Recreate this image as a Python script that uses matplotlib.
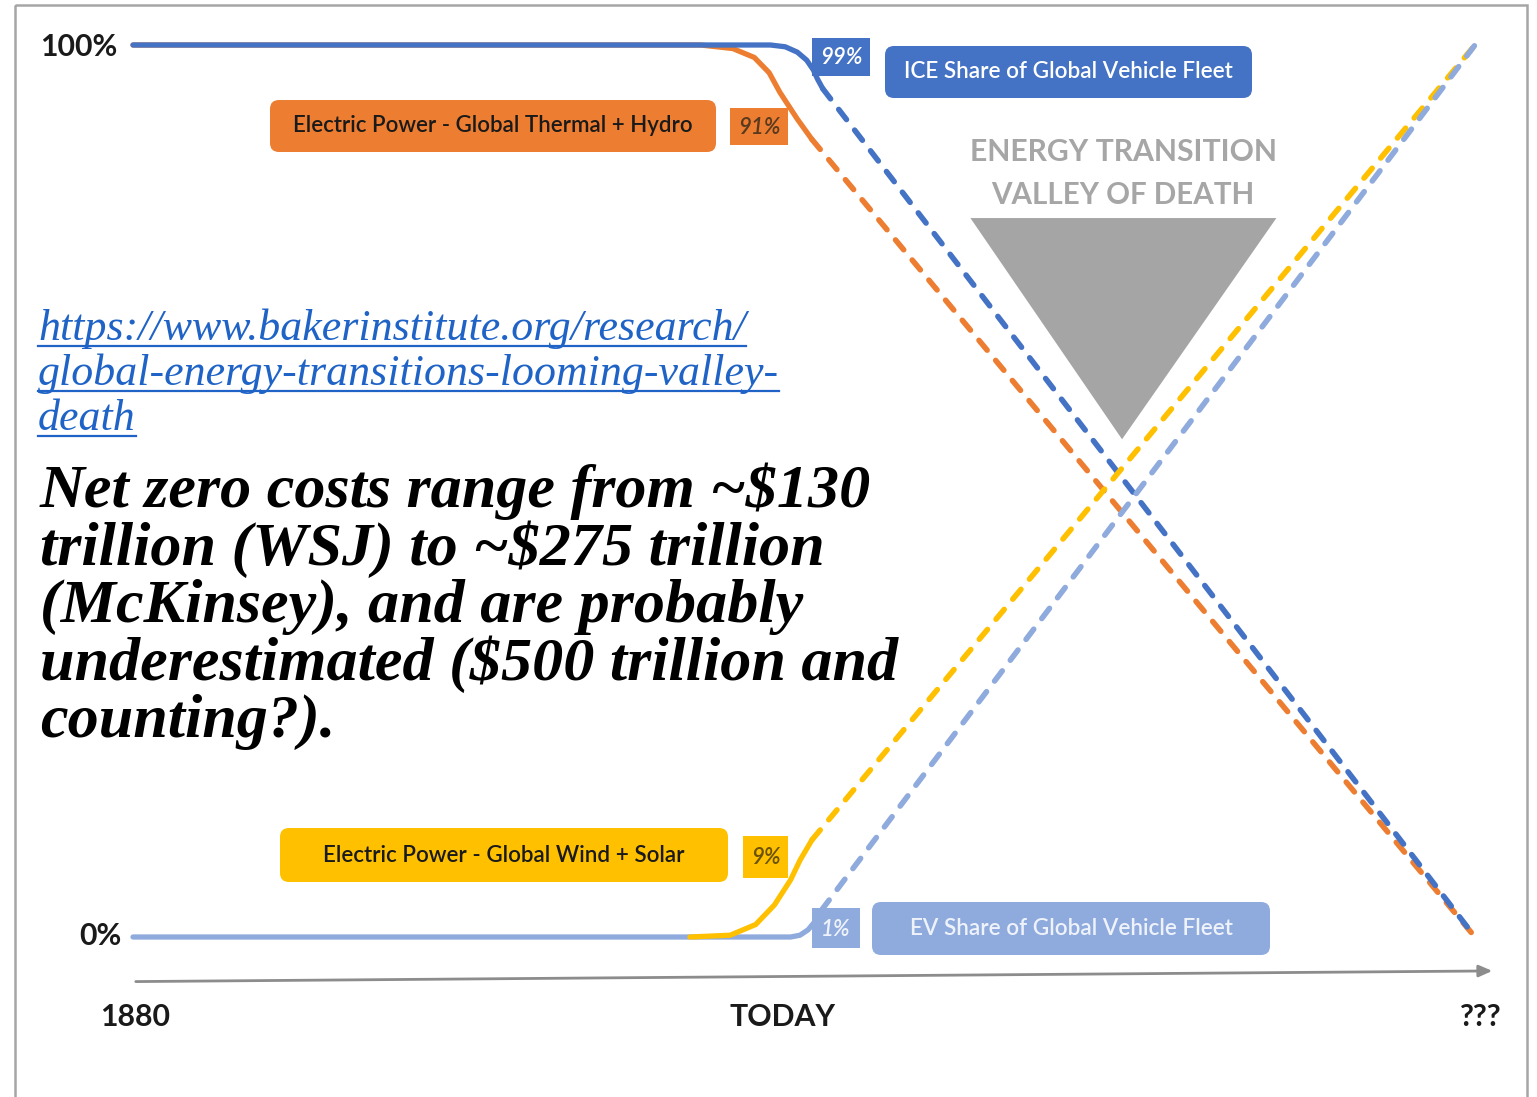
import matplotlib
matplotlib.use("Agg")
import matplotlib.pyplot as plt
from matplotlib.patches import FancyBboxPatch, Rectangle, Polygon
from matplotlib.transforms import Affine2D

W, H = 1537, 1097

# ----------------------- data (time index 0=1880 .. 100=???, share in %) -----------------------
ice_solid_x = [0, 47.5, 48.6, 49.5, 50.2, 50.7, 51.0, 51.4]
ice_solid_y = [100, 100, 99.8, 99.2, 98.3, 97.2, 96.2, 95.1]
ice_dash_x = [51.4, 100]
ice_dash_y = [95.1, 0]

thermal_solid_x = [0, 42.3, 44.7, 46.3, 47.4, 48.2, 49.5, 50.6]
thermal_solid_y = [100, 100, 99.6, 98.6, 96.9, 94.7, 91.7, 89.4]
thermal_dash_x = [50.6, 100]
thermal_dash_y = [89.4, 0]

wind_solid_x = [41.5, 44.5, 46.4, 47.8, 49.0, 49.7, 50.6]
wind_solid_y = [0, 0.2, 1.4, 3.6, 6.4, 8.6, 10.9]
wind_dash_x = [50.6, 100]
wind_dash_y = [10.9, 100]

ev_solid_x = [0, 49.0, 49.7, 50.3, 50.8, 51.3]
ev_solid_y = [0, 0, 0.2, 0.8, 1.7, 3.0]
ev_dash_x = [51.3, 100]
ev_dash_y = [3.0, 100]

series_names = ["ICE Share of Global Vehicle Fleet",
                "Electric Power - Global Thermal + Hydro",
                "Electric Power - Global Wind + Solar",
                "EV Share of Global Vehicle Fleet"]
today_values = ["99%", "91%", "9%", "1%"]
y_ticks = ["100%", "0%"]
x_ticks = ["1880", "TODAY", "???"]

valley_title = ["ENERGY TRANSITION", "VALLEY OF DEATH"]
link_lines = ["https://www.bakerinstitute.org/research/",
              "global-energy-transitions-looming-valley-",
              "death"]
note_lines = ["Net zero costs range from ~$130",
              "trillion (WSJ) to ~$275 trillion",
              "(McKinsey), and are probably",
              "underestimated ($500 trillion and",
              "counting?)."]

BLUE = "#4472C4"
ORANGE = "#ED7D31"
YELLOW = "#FFC000"
LBLUE = "#8FAADC"
GREY = "#A5A5A5"

# ----------------------- figure -----------------------
fig = plt.figure(figsize=(W / 100, H / 100), dpi=100)
ax = fig.add_axes([0, 0, 1, 1])
# 1880 sits at pixel 133, ??? end at 1475; 100% at pixel 45, 0% at 937
ax.set_xlim(-133 / 13.42, (W - 133) / 13.42)
ax.set_ylim((937 - H) / 8.92, 937 / 8.92)
ax.axis("off")

# pixel transform (image coords, y down) for labels and boxes
pix = Affine2D().scale(1, -1).translate(0, H)
renderer = fig.canvas.get_renderer()


def fit(t, target):
    w = t.get_window_extent(renderer).width
    t.set_fontsize(t.get_fontsize() * target / w)


solid = dict(lw=3.8, solid_capstyle="round", zorder=3)
dash = dict(lw=4.0, ls=(0, (2.3, 2.4)), dash_capstyle="round", zorder=3)

# valley of death triangle (data coords)
ax.add_patch(Polygon([[62.4, 80.6], [85.2, 80.6], [73.7, 55.8]], closed=True,
                     facecolor=GREY, edgecolor="none", zorder=1))

ax.plot(thermal_solid_x, thermal_solid_y, color=ORANGE, **solid)
ax.plot(ice_solid_x, ice_solid_y, color=BLUE, **solid)
ax.plot(ev_solid_x, ev_solid_y, color=LBLUE, **solid)
ax.plot(wind_solid_x, wind_solid_y, color=YELLOW, **solid)

ax.plot(thermal_dash_x, thermal_dash_y, color=ORANGE, **dash)
ax.plot(ice_dash_x, ice_dash_y, color=BLUE, **dash)
ax.plot(wind_dash_x, wind_dash_y, color=YELLOW, **dash)
ax.plot(ev_dash_x, ev_dash_y, color=LBLUE, **dash)

# time axis arrow
ax.annotate("", xy=(101.5, -3.8), xytext=(0, -5.0),
            arrowprops=dict(arrowstyle="-|>,head_length=0.8,head_width=0.35",
                            color="#8C8C8C", lw=2), zorder=2)

# frame
ax.add_patch(Rectangle((15, 5), 1512, 1100, transform=pix, fill=False,
                       edgecolor="#A6A6A6", lw=1.8, zorder=0))

# axis texts
lab = dict(family="Lato", weight="bold", color="#1A1A1A", transform=pix)
t = ax.text(117, 47, y_ticks[0], ha="right", va="center", fontsize=20, **lab)
fit(t, 78)
size = t.get_fontsize()
ax.text(122, 936, y_ticks[1], ha="right", va="center", fontsize=size, **lab)
for xt, px in zip(x_ticks, [135, 782, 1481]):
    ax.text(px, 1017, xt, ha="center", va="center", fontsize=size, **lab)

# series label boxes: (x0, y0, w, h), face, text colour, text width
boxes = [
    ((885, 46, 367, 52), BLUE, "white", 330),
    ((270, 100, 446, 52), ORANGE, "#1A1A1A", 401),
    ((280, 828, 448, 54), YELLOW, "#1A1A1A", 363),
    ((872, 902, 398, 53), LBLUE, "#EEF2FA", 323),
]
for name, (rect, fc, tc, tw) in zip(series_names, boxes):
    x0, y0, w, h = rect
    ax.add_patch(FancyBboxPatch((x0, y0), w, h, transform=pix,
                                boxstyle="round,pad=0,rounding_size=9",
                                facecolor=fc, edgecolor="none", zorder=4))
    t = ax.text(x0 + w / 2, y0 + h / 2, name, transform=pix, ha="center",
                va="center", family="Lato", weight="semibold", fontsize=15,
                color=tc, zorder=5)
    fit(t, tw)

# today value boxes
vboxes = [
    ((812, 38, 58, 38), BLUE, "white"),
    ((730, 108, 58, 37), ORANGE, "#5A3A1E"),
    ((743, 836, 45, 42), YELLOW, "#6B5200"),
    ((812, 908, 48, 40), LBLUE, "#EEF2FA"),
]
for val, (rect, fc, tc) in zip(today_values, vboxes):
    x0, y0, w, h = rect
    ax.add_patch(Rectangle((x0, y0), w, h, transform=pix, facecolor=fc,
                           edgecolor="none", zorder=4))
    ax.text(x0 + w / 2, y0 + h / 2 + 1, val, transform=pix, ha="center",
            va="center", family="Lato", style="italic", weight="semibold",
            fontsize=16, color=tc, zorder=5)

# valley title
for line, py, tw in zip(valley_title, [152, 195], [307, 263]):
    t = ax.text(1123, py, line, transform=pix, ha="center", va="center",
                family="Lato", weight="bold", color="#A6A6A6", fontsize=20)
    fit(t, tw)

# link, underlined by hand
LINK = "#1F63C6"
link_texts = []
for line, py in zip(link_lines, [340, 385, 430]):
    t = ax.text(38, py, line, transform=pix, va="baseline",
                family="Liberation Serif", style="italic", color=LINK,
                fontsize=28)
    link_texts.append((t, py))
fit(link_texts[0][0], 705)
lsize = link_texts[0][0].get_fontsize()
for t, py in link_texts:
    t.set_fontsize(lsize)
    bb = t.get_window_extent(renderer)
    ax.plot([bb.x0, bb.x1], [H - py - 6] * 2, transform=None, color=LINK, lw=1.6)

# note
note_texts = []
for line, py in zip(note_lines, [507, 565, 622, 680, 737]):
    t = ax.text(40, py, line, transform=pix, va="baseline",
                family="Liberation Serif", style="italic", weight="bold",
                color="black", fontsize=36)
    note_texts.append(t)
fit(note_texts[3], 857)
nsize = note_texts[3].get_fontsize()
for t in note_texts:
    t.set_fontsize(nsize)

fig.savefig("out.png", dpi=100)
